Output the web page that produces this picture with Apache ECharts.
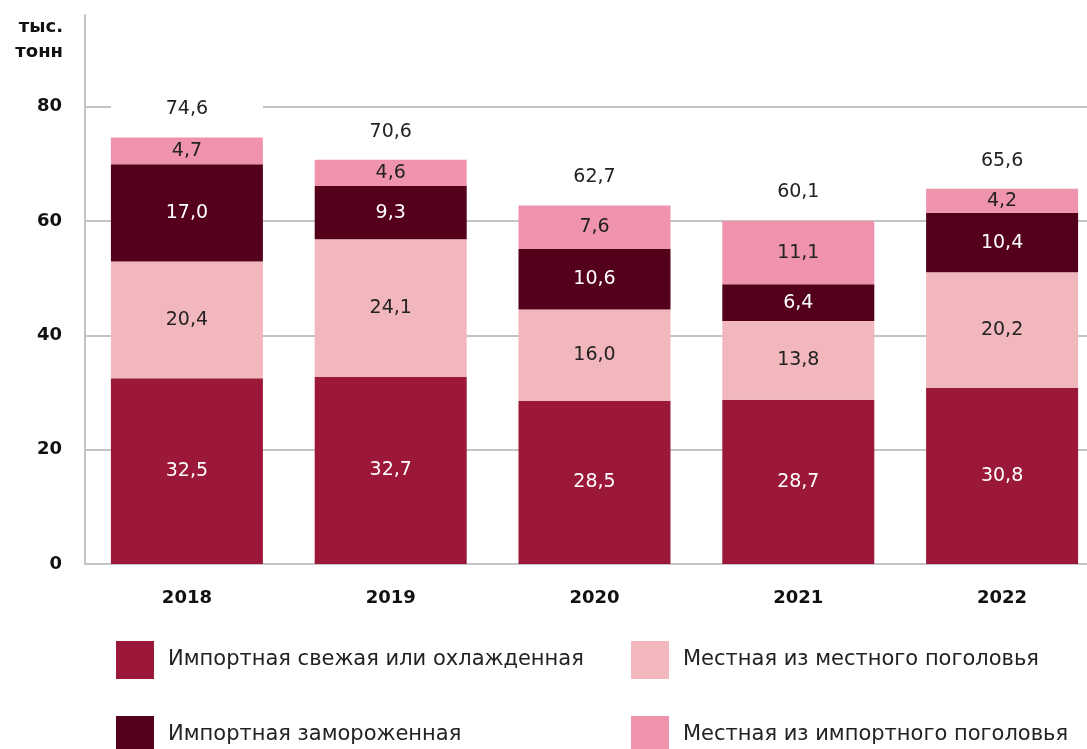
<!DOCTYPE html>
<html>
<head>
<meta charset="utf-8">
<script src="https://cdn.jsdelivr.net/npm/echarts@6/dist/echarts.min.js"></script>
<style>
  html, body { margin: 0; padding: 0; background: #fff; }
  #chart { width: 1087px; height: 749px; }
</style>
</head>
<body>
<div id="chart"></div>
<script>
// данные
const years = ['2018', '2019', '2020', '2021', '2022']
const importFresh = [32.5, 32.7, 28.5, 28.7, 30.8]
const localFromLocal = [20.4, 24.1, 16.0, 13.8, 20.2]
const importFrozen = [17.0, 9.3, 10.6, 6.4, 10.4]
const localFromImport = [4.7, 4.6, 7.6, 11.1, 4.2]
const totals = [74.6, 70.6, 62.7, 60.1, 65.6]
const yTicks = [0, 20, 40, 60, 80]

const names = [
  'Импортная свежая или охлажденная',
  'Местная из местного поголовья',
  'Импортная замороженная',
  'Местная из импортного поголовья',
]
const colors = ['#9c1838', '#f2b7bd', '#55001a', '#f094ae']
const labelColors = ['#fff', '#222', '#fff', '#222']
const seriesData = [importFresh, localFromLocal, importFrozen, localFromImport]

const FONT = '"DejaVu Sans", sans-serif'
const fmt = v => v.toFixed(1).replace('.', ',')

const chart = echarts.init(document.getElementById('chart'))

const barSeries = seriesData.map((data, i) => ({
  name: names[i],
  type: 'bar',
  stack: 'total',
  barWidth: 152,
  data,
  itemStyle: { color: colors[i] },
  label: {
    show: true,
    position: 'inside',
    color: labelColors[i],
    fontFamily: FONT,
    fontSize: 19,
    formatter: p => fmt(p.value),
  },
}))

// подписи итогов над столбцами (белая подложка перекрывает линию сетки)
const totalSeries = {
  name: 'total',
  type: 'scatter',
  data: totals,
  symbolSize: 0,
  silent: true,
  itemStyle: { opacity: 1 },
  label: {
    show: true,
    position: 'top',
    distance: 13,
    color: '#222',
    fontFamily: FONT,
    fontSize: 19,
    lineHeight: 22,
    padding: [4, 0],
    width: 152,
    align: 'center',
    backgroundColor: '#fff',
    formatter: p => fmt(p.value),
  },
}

function makeLegend(left, items) {
  return {
    orient: 'vertical',
    left,
    top: 641,
    height: 160,
    padding: 0,
    itemWidth: 38,
    itemHeight: 38,
    itemGap: 37,
    icon: 'rect',
    data: items,
    textStyle: { fontFamily: FONT, fontSize: 21, color: '#222', padding: [5, 0, 0, 9] },
  }
}

const option = {
  animation: false,
  backgroundColor: '#fff',
  grid: {
    left: 85,
    top: 15,
    width: 1019,
    bottom: 185,
    outerBoundsMode: 'none',
  },
  legend: [
    makeLegend(116, [names[0], names[2]]),
    makeLegend(631, [names[1], names[3]]),
  ],
  xAxis: {
    type: 'category',
    data: years,
    axisLine: { lineStyle: { color: '#c4c4c4', width: 2 } },
    axisTick: { show: false },
    axisLabel: {
      margin: 25,
      color: '#111',
      fontFamily: FONT,
      fontWeight: 'bold',
      fontSize: 18,
    },
  },
  yAxis: {
    type: 'value',
    min: yTicks[0],
    max: 96,
    interval: yTicks[1] - yTicks[0],
    name: 'тыс.\nтонн',
    nameLocation: 'end',
    nameGap: 0,
    nameTextStyle: {
      align: 'right',
      verticalAlign: 'top',
      color: '#111',
      fontFamily: FONT,
      fontWeight: 'bold',
      fontSize: 18,
      lineHeight: 25,
      padding: [0, 22, 0, 0],
    },
    axisLine: { show: true, lineStyle: { color: '#c4c4c4', width: 2 } },
    axisTick: { show: false },
    axisLabel: {
      margin: 23,
      color: '#111',
      fontFamily: FONT,
      fontWeight: 'bold',
      fontSize: 18,
      showMaxLabel: false,
    },
    splitLine: {
      show: true,
      showMaxLine: false,
      lineStyle: { color: '#c4c4c4', width: 2 },
    },
  },
  series: [...barSeries, totalSeries],
}

chart.setOption(option)
</script>
</body>
</html>
